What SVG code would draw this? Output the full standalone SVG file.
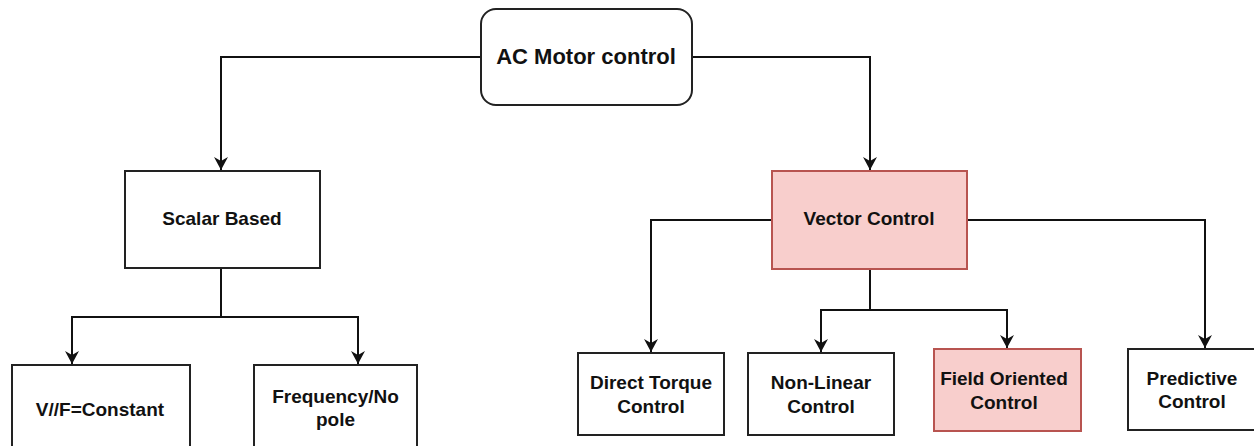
<svg xmlns="http://www.w3.org/2000/svg" width="1254" height="446" viewBox="0 0 1254 446">
<defs>
<style>
.box{fill:#ffffff;stroke:#222;stroke-width:2}
.pink{fill:#f8cecc;stroke:#b85450;stroke-width:2}
.t{font-family:"Liberation Sans",Arial,sans-serif;font-weight:bold;font-size:19px;fill:#111;text-anchor:middle}
.big{font-size:22px}
.c{fill:none;stroke:#111;stroke-width:2;marker-end:url(#arr)}
.l{fill:none;stroke:#111;stroke-width:2}
</style>
<marker id="arr" markerUnits="userSpaceOnUse" markerWidth="14" markerHeight="16" viewBox="0 0 14 16" refX="13" refY="8" orient="auto">
<path d="M0,1 L13,8 L0,15 L4,8 z" fill="#111"/>
</marker>
</defs>
<rect width="1254" height="446" fill="#ffffff"/>
<g id="connectors">
<path class="c" d="M481,57 H221 V170"/>
<path class="c" d="M692,57 H870 V170"/>
<path class="l" d="M221,268 V317"/>
<path class="c" d="M221,317 H72 V364"/>
<path class="c" d="M221,317 H358 V364"/>
<path class="c" d="M772,220 H651 V352"/>
<path class="c" d="M967,220 H1205 V348"/>
<path class="l" d="M870,269 V310"/>
<path class="c" d="M870,310 H821 V352"/>
<path class="c" d="M870,310 H1007 V348"/>
</g>
<g id="ac-motor-control">
<rect class="box" x="481" y="9" width="211" height="96" rx="15" ry="15"/>
<text class="t big" x="586" y="64">AC Motor control</text>
</g>
<g id="scalar-based">
<rect class="box" x="125" y="171" width="195" height="97"/>
<text class="t" x="222" y="225">Scalar Based</text>
</g>
<g id="vector-control">
<rect class="pink" x="772" y="171" width="195" height="98"/>
<text class="t" x="869" y="225">Vector Control</text>
</g>
<g id="vf-constant">
<rect class="box" x="12" y="365" width="178" height="100"/>
<text class="t" x="100" y="416">V//F=Constant</text>
</g>
<g id="frequency-no-pole">
<rect class="box" x="254" y="365" width="163" height="100"/>
<text class="t" x="335.5" y="403">Frequency/No</text>
<text class="t" x="335.5" y="426">pole</text>
</g>
<g id="direct-torque-control">
<rect class="box" x="578" y="353" width="146" height="82"/>
<text class="t" x="651" y="389">Direct Torque</text>
<text class="t" x="651" y="413">Control</text>
</g>
<g id="non-linear-control">
<rect class="box" x="748" y="353" width="146" height="82"/>
<text class="t" x="821" y="389">Non-Linear</text>
<text class="t" x="821" y="413">Control</text>
</g>
<g id="field-oriented-control">
<rect class="pink" x="934" y="349" width="147" height="82"/>
<text class="t" x="1004" y="385">Field Oriented</text>
<text class="t" x="1004" y="409">Control</text>
</g>
<g id="predictive-control">
<rect class="box" x="1128" y="349" width="128" height="81"/>
<text class="t" x="1192" y="385">Predictive</text>
<text class="t" x="1192" y="408">Control</text>
</g>
</svg>
